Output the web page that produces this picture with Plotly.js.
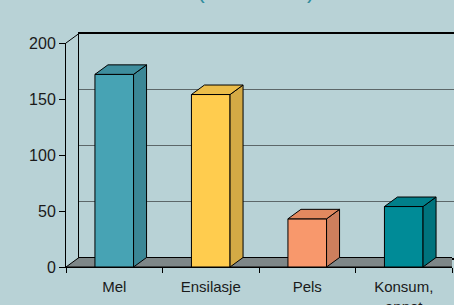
<!DOCTYPE html>
<html>
<head>
<meta charset="utf-8">
<script src="https://cdn.plot.ly/plotly-3.0.1.min.js"></script>
<style>html,body{margin:0;padding:0;background:#b8d2d6;}#chart{width:454px;height:305px;}</style>
</head>
<body>
<div id="chart"></div>
<script>
// ---- data ----
const categories = ['Mel', 'Ensilasje', 'Pels', 'Konsum,<br>annet'];
const values = [172, 154, 43, 54];
const yTickVals = [0, 50, 100, 150, 200];
const titleText = '(1000 tonn)';

// ---- styles ----
const frontColors = ['#47a3b4', '#ffcc4e', '#f8986c', '#008b97'];
const sideColors  = ['#3b8796', '#d4aa45', '#cd7f5d', '#00737d'];
const topColors   = ['#3e8e9e', '#ebbd4a', '#e2895f', '#007f8a'];
const BG = '#b8d2d6';
const FLOOR = '#7e8788';
const FONT = 'Liberation Sans, Arial, sans-serif';

// ---- geometry (pixels) ----
const W = 454, H = 305;
const FX0 = 66, FX1 = 452, FY0 = 267, FY1 = 43; // front plane
const DX = 13, DY = 9.5;                       // depth offset
const nCat = categories.length;
const yMax = 200;
const pxPerCat = (FX1 - FX0) / nCat;
const pxPerUnit = (FY0 - FY1) / yMax;
const dxd = DX / pxPerCat, dyd = DY / pxPerUnit;
const barW = 0.4;
const xs = categories.map((_, i) => i);

const traces = [];
// dummy trace for back-wall axes
traces.push({x: [], y: [], type: 'scatter', xaxis: 'x', yaxis: 'y', showlegend: false, hoverinfo: 'skip'});
// front faces
traces.push({
  type: 'bar', x: xs, y: values, width: barW, xaxis: 'x2', yaxis: 'y2',
  marker: {color: frontColors, line: {color: '#000', width: 1}},
  showlegend: false, hoverinfo: 'skip'
});
// side and top faces
values.forEach((v, i) => {
  const xl = xs[i] - barW / 2, xr = xs[i] + barW / 2;
  traces.push({
    type: 'scatter', mode: 'lines', fill: 'toself', xaxis: 'x2', yaxis: 'y2',
    x: [xr, xr + dxd, xr + dxd, xr, xr], y: [0, dyd, v + dyd, v, 0],
    fillcolor: sideColors[i], line: {color: '#000', width: 1},
    showlegend: false, hoverinfo: 'skip', cliponaxis: false
  });
  traces.push({
    type: 'scatter', mode: 'lines', fill: 'toself', xaxis: 'x2', yaxis: 'y2',
    x: [xl, xr, xr + dxd, xl + dxd, xl], y: [v, v, v + dyd, v + dyd, v],
    fillcolor: topColors[i], line: {color: '#000', width: 1},
    showlegend: false, hoverinfo: 'skip', cliponaxis: false
  });
});

const layout = {
  width: W, height: H,
  margin: {l: 0, r: 0, t: 0, b: 0},
  paper_bgcolor: BG, plot_bgcolor: 'rgba(0,0,0,0)',
  font: {family: FONT, size: 15, color: '#1a1a1a'},
  showlegend: false,
  // back wall axes
  xaxis: {
    domain: [(FX0 + DX) / W, 1], range: [-0.5, -0.5 + (W - FX0 - DX) / pxPerCat],
    anchor: 'y', showgrid: false, zeroline: false, showticklabels: false, ticks: '',
    showline: true, mirror: true, linecolor: '#000', linewidth: 2, fixedrange: true
  },
  yaxis: {
    domain: [(H - FY0 + DY) / H, (H - FY1 + DY) / H], range: [0, yMax],
    anchor: 'x', tickmode: 'array', tickvals: yTickVals, showgrid: true,
    gridcolor: '#5c6769', gridwidth: 1.5, zeroline: false, showticklabels: false,
    ticks: '', showline: true, linecolor: '#000', linewidth: 1, fixedrange: true
  },
  // front axes
  xaxis2: {
    domain: [FX0 / W, FX1 / W], range: [-0.5, nCat - 0.5], anchor: 'y2',
    tickmode: 'array', tickvals: xs, ticktext: categories, ticks: '',
    minor: {tickmode: 'array', tickvals: xs.concat([nCat]).map(v => v - 0.5), ticks: 'outside', ticklen: 5, tickcolor: '#000', tickwidth: 1, showgrid: false},
    showgrid: false, zeroline: false, showline: true, linecolor: '#000', linewidth: 1,
    tickfont: {size: 15, color: '#1a1a1a'}, ticklabelstandoff: 6, fixedrange: true
  },
  yaxis2: {
    domain: [(H - FY0) / H, (H - FY1) / H], range: [0, yMax], anchor: 'x2',
    tickmode: 'array', tickvals: yTickVals, ticks: 'outside', ticklen: 6, tickcolor: '#000',
    showgrid: false, zeroline: false, showline: true, linecolor: '#000', linewidth: 1,
    tickfont: {size: 16, color: '#1a1a1a'}, fixedrange: true
  },
  shapes: [
    // floor
    {type: 'path', xref: 'x2', yref: 'y2', layer: 'below',
     path: `M -0.5 0 L ${nCat - 0.5} 0 L ${nCat - 0.5 + dxd} ${dyd} L ${-0.5 + dxd} ${dyd} Z`,
     fillcolor: FLOOR, line: {color: '#000', width: 1}},
    // top-left diagonal edge
    {type: 'line', xref: 'paper', yref: 'paper',
     x0: FX0 / W, y0: (H - FY1) / H, x1: (FX0 + DX) / W, y1: (H - FY1 + DY) / H,
     line: {color: '#000', width: 1}}
  ],
  annotations: [
    {text: titleText, xref: 'paper', yref: 'paper', x: 256 / W, y: 1 - 5 / H,
     xanchor: 'center', yanchor: 'bottom', showarrow: false,
     font: {family: FONT, size: 23, color: '#2f8c9c'}}
  ]
};

Plotly.newPlot('chart', traces, layout, {staticPlot: true, displayModeBar: false});
</script>
</body>
</html>
